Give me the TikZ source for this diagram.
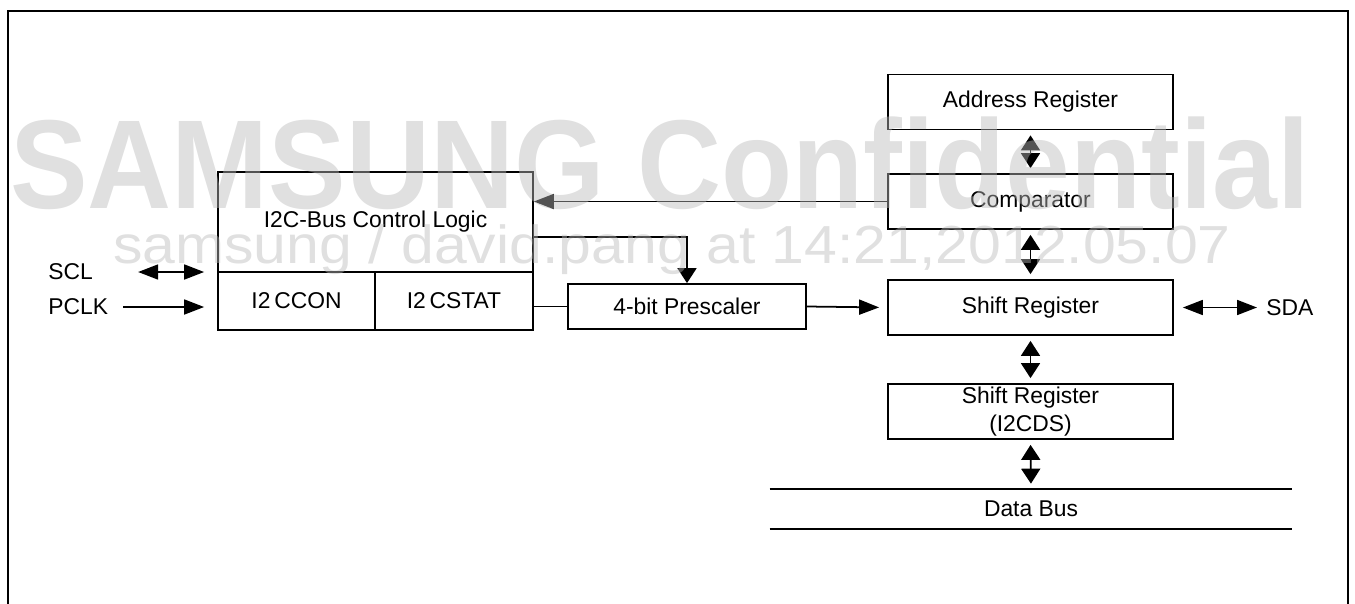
\documentclass[tikz,border=0pt]{standalone}
\usepackage{fontspec}
\setmainfont{Liberation Sans}
\usetikzlibrary{arrows.meta,positioning,calc}

\begin{document}
\begin{tikzpicture}[
  font=\fontsize{13}{16}\selectfont,
  blk/.style={draw, line width=1pt, align=center, inner sep=1pt,
              minimum height=11mm, minimum width=#1},
  blk/.default=57mm,
  lbl/.style={inner sep=0pt},
  harr/.style={-{Triangle[length=4mm,width=3mm]}, line width=1pt},
  hdbl/.style={{Triangle[length=4mm,width=3mm]}-{Triangle[length=4mm,width=3mm]}, line width=1pt},
  varr/.style={-{Triangle[length=3mm,width=3.8mm]}, line width=1pt},
  vdbl/.style={{Triangle[length=3mm,width=3.8mm]}-{Triangle[length=3mm,width=3.8mm]},
               line width=1pt, shorten >=1mm, shorten <=1mm},
  wmark/.style={text=black!27, text opacity=0.45, inner sep=0pt}]
\useasboundingbox (0,0) rectangle (27.1,-12.06);
\draw[line width=1.6pt] (0.16,-12.2) -- (0.16,-0.22) -- (26.96,-0.22) -- (26.96,-12.2);
% left side
\node[blk=63mm, minimum height=20mm] (ctrl) at (7.51,-4.44) {I2C-Bus Control Logic};
\node[blk=31.4mm, minimum height=11.6mm] (con)  at (5.93,-6.02) {I2\,CCON};
\node[blk=31.6mm, minimum height=11.6mm] (stat) at (9.08,-6.02) {I2\,CSTAT};
\node[lbl, anchor=west] (scl)  at (0.96,-5.44) {SCL};
\node[lbl, anchor=west] (pclk) at (0.96,-6.14) {PCLK};
\node[blk=47.6mm, minimum height=9mm] (pre) at (13.74,-6.13) {4-bit Prescaler};
% right column
\node[blk] (addr)  at (20.61,-2.04) {Address Register};
\node[blk] (comp)  at (20.61,-4.03) {Comparator};
\node[blk] (shift) at (20.61,-6.15) {Shift Register};
\node[blk] (ds)    at (20.61,-8.23) {Shift Register\\(I2CDS)};
\node[minimum width=104.4mm, minimum height=8mm] (bus) at (20.62,-10.18) {Data Bus};
\node[lbl, anchor=west] (sda) at (25.32,-6.15) {SDA};
\draw[line width=1pt] (bus.north west) -- (bus.north east) (bus.south west) -- (bus.south east);
% connectors
\draw[hdbl, shorten <=9mm, shorten >=2.6mm] (scl.east) -- (ctrl.west |- scl.east);
\draw[harr, shorten <=3mm, shorten >=2.6mm] (pclk.east) -- (con.west |- pclk.east);
\draw[line width=1pt] (stat.east |- pre.west) -- (pre.west);
\draw[varr] ([yshift=-3mm]ctrl.east) -| (pre.north);
\draw[harr] (comp.west) -- (ctrl.east |- comp.west);
\draw[harr, shorten >=1.6mm] (pre.east) -- (shift.west);
\draw[hdbl, shorten <=1.8mm, shorten >=1.8mm] (shift.east) -- (sda.west);
\foreach \a/\b in {addr/comp, comp/shift, shift/ds, ds/bus} \draw[vdbl] (\a.south) -- (\b.north);
% watermark
\node[wmark, font=\bfseries\fontsize{72}{72}\selectfont, anchor=base] (wm1) at (13.2,-4.16)
  {\scalebox{0.92}[1]{SAMSUNG Confidential}};
\node[wmark, font=\fontsize{30.5}{30.5}\selectfont, anchor=base] (wm2) at (13.44,-5.26)
  {\scalebox{1.1}[1]{samsung / david.pang at 14:21,2012.05.07}};
\end{tikzpicture}
\end{document}
